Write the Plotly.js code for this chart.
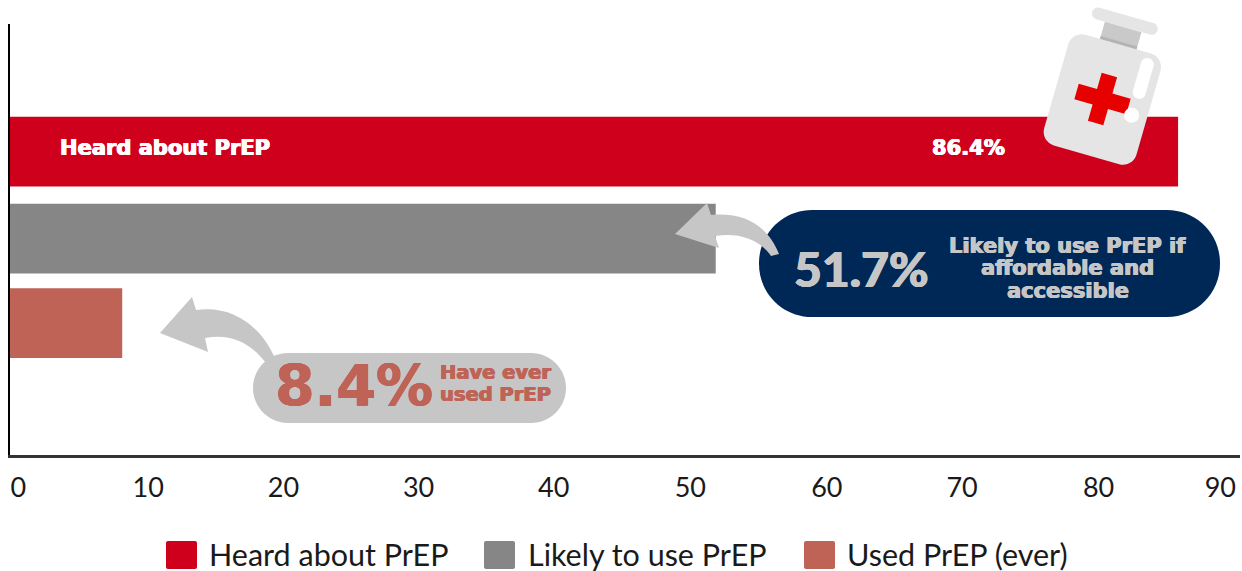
<!DOCTYPE html>
<html><head><meta charset="utf-8">
<script src="https://cdn.plot.ly/plotly-3.0.0.min.js"></script>
<style>html,body{margin:0;padding:0;background:#fff}</style></head>
<body><div id="chart" style="width:1242px;height:571px"></div>
<script>
var categories = ['Heard about PrEP', 'Likely to use PrEP', 'Used PrEP (ever)'];
var barValues = [86.4, 52.2, 8.3];
var barLabels = ['86.4%', '51.7%', '8.4%'];
var barSlots = [1, 2.01, 2.99];
var barColors = ['#CF001C', '#868686', '#BE6356'];
var tickPositions = [0.4, 10, 20, 30, 40, 50.1, 60.2, 70.2, 80.3, 89.3];
var tickLabels = ['0', '10', '20', '30', '40', '50', '60', '70', '80', '90'];

var W = 1242, H = 571, L = 10, R = 2, T = 24, B = 116;
var PW = W - L - R, PH = H - T - B;
function fx(x){ return ((x - L) / PW).toFixed(5); }
function fy(y){ return ((H - B - y) / PH).toFixed(5); }
function pt(x, y){ return fx(x) + ',' + fy(y); }
function paperShape(path, color){
  return {type:'path', xref:'paper', yref:'paper', layer:'above', path:path, fillcolor:color, line:{width:0}};
}
function rrect(x0, y0, x1, y1, r, map){
  var k = 0.5523 * r;
  map = map || function(a, b){ return [a, b]; };
  function q(a, b){ var m = map(a, b); return pt(m[0], m[1]); }
  return 'M' + q(x0 + r, y0) + ' L' + q(x1 - r, y0) +
    ' C' + q(x1 - r + k, y0) + ' ' + q(x1, y0 + r - k) + ' ' + q(x1, y0 + r) +
    ' L' + q(x1, y1 - r) +
    ' C' + q(x1, y1 - r + k) + ' ' + q(x1 - r + k, y1) + ' ' + q(x1 - r, y1) +
    ' L' + q(x0 + r, y1) +
    ' C' + q(x0 + r - k, y1) + ' ' + q(x0, y1 - r + k) + ' ' + q(x0, y1 - r) +
    ' L' + q(x0, y0 + r) +
    ' C' + q(x0, y0 + r - k) + ' ' + q(x0 + r - k, y0) + ' ' + q(x0 + r, y0) + ' Z';
}
var th = 16 * Math.PI / 180, c = Math.cos(th), s = Math.sin(th);
function bottle(u, v){ return [1102.5 + u * c - v * s, 99 + u * s + v * c]; }
function poly(list){
  return 'M' + list.map(function(p){ var m = bottle(p[0], p[1]); return pt(m[0], m[1]); }).join(' L') + ' Z';
}

var shapes = [
  paperShape(rrect(166, 541, 197, 569, 2), barColors[0]),
  paperShape(rrect(484, 541, 515, 569, 2), barColors[1]),
  paperShape(rrect(804, 541, 835, 569, 2), barColors[2]),
  paperShape(rrect(759, 210, 1220, 317, 53), '#002856'),
  paperShape('M' + pt(675, 234) + ' L' + pt(707, 203) + ' L' + pt(711, 215) +
    ' C' + pt(745, 212) + ' ' + pt(768, 226) + ' ' + pt(779, 254) +
    ' L' + pt(771, 256) + ' C' + pt(760, 240) + ' ' + pt(740, 232) + ' ' + pt(715, 236) +
    ' L' + pt(719, 248) + ' Z', '#C6C6C6'),
  paperShape(rrect(253, 353, 566, 423, 35), '#C6C6C6'),
  paperShape('M' + pt(160, 333) + ' L' + pt(192, 297) + ' L' + pt(196, 310) +
    ' C' + pt(232, 305) + ' ' + pt(260, 325) + ' ' + pt(275, 358) +
    ' L' + pt(266, 363) + ' C' + pt(250, 342) + ' ' + pt(230, 333) + ' ' + pt(205, 338) +
    ' L' + pt(208, 352) + ' Z', '#C6C6C6'),
  paperShape(rrect(-34, -87, 34, -75, 6, bottle), '#E5E5E5'),
  paperShape(poly([[-19, -75], [19, -75], [19, -56], [-19, -56]]), '#C9C9C9'),
  paperShape(poly([[-19, -60], [19, -60], [19, -56], [-19, -56]]), '#B4B4B4'),
  paperShape(rrect(-48, -57, 48, 58, 14, bottle), '#E5E5E5'),
  paperShape(poly([[-8, -25], [8, -25], [8, -8], [27, -8], [27, 8], [8, 8], [8, 25], [-8, 25], [-8, 8], [-27, 8], [-27, -8], [-8, -8]]), '#E60000'),
  paperShape(rrect(27, -52, 40, -10, 6.5, bottle), '#FFFFFF'),
  paperShape(rrect(25, 0, 40, 15, 7.5, bottle), '#FFFFFF')
];

function note(text, x, y, size, color, family, weight){
  var sh = '0.6px 0 0 ' + color + ', -0.6px 0 0 ' + color + ', 0 0.4px 0 ' + color;
  return {text:text, xref:'paper', yref:'paper', x:+fx(x), y:+fy(y), xanchor:'center', yanchor:'middle',
    showarrow:false, align:'center',
    font:{family:family || 'DejaVu Sans', size:size, color:color, weight:weight || 700, shadow:sh}};
}
var annotations = [
  note(categories[0], 165, 148, 21, '#FFFFFF'),
  note(barLabels[0], 969, 148, 21, '#FFFFFF'),
  note(barLabels[1], 861, 268, 48, '#C6C6C6', 'Lato', 900),
  note('Likely to use PrEP if', 1068, 246, 21, '#C6C6C6'),
  note('affordable and', 1068, 268, 21, '#C6C6C6'),
  note('accessible', 1068, 291, 21, '#C6C6C6'),
  note(barLabels[2], 354, 386, 57, '#BE6356'),
  note('Have ever', 496, 372.5, 19.5, '#BE6356'),
  note('used PrEP', 496, 394.5, 19.5, '#BE6356')
];

var traces = categories.map(function(name, i){
  return {type:'bar', orientation:'h', name:name, x:[barValues[i]], y:[barSlots[i]], width:0.81,
    marker:{color:barColors[i]}, hoverinfo:'x+name'};
});

Plotly.newPlot('chart', traces, {
  width:W, height:H, autosize:false,
  margin:{l:L, r:R, t:T, b:B, pad:0},
  paper_bgcolor:'#fff', plot_bgcolor:'#fff',
  barmode:'overlay',
  font:{family:'Lato', color:'#222'},
  xaxis:{range:[0, 90.98], tickmode:'array', tickvals:tickPositions, ticktext:tickLabels,
    showgrid:false, zeroline:false, showline:true, linecolor:'#333', linewidth:3,
    ticks:'outside', ticklen:7, tickcolor:'rgba(0,0,0,0)', ticklabelshift:3,
    tickfont:{family:'Lato', size:27, color:'#1a1a1a'}},
  yaxis:{range:[4.52, -0.48], showticklabels:false, ticks:'', showgrid:false, zeroline:false,
    showline:true, linecolor:'#000', linewidth:2},
  showlegend:true,
  legend:{orientation:'h', xref:'container', yref:'container', x:161/W, y:(H-528)/H, xanchor:'left', yanchor:'top',
    entrywidth:266, entrywidthmode:'pixels', itemwidth:38, itemclick:false, itemdoubleclick:false,
    font:{family:'Lato', size:30.5, color:'#1a1a1a'}, bgcolor:'rgba(0,0,0,0)', traceorder:'normal'},
  shapes:shapes, annotations:annotations
}, {displayModeBar:false, staticPlot:true});
</script></body></html>
